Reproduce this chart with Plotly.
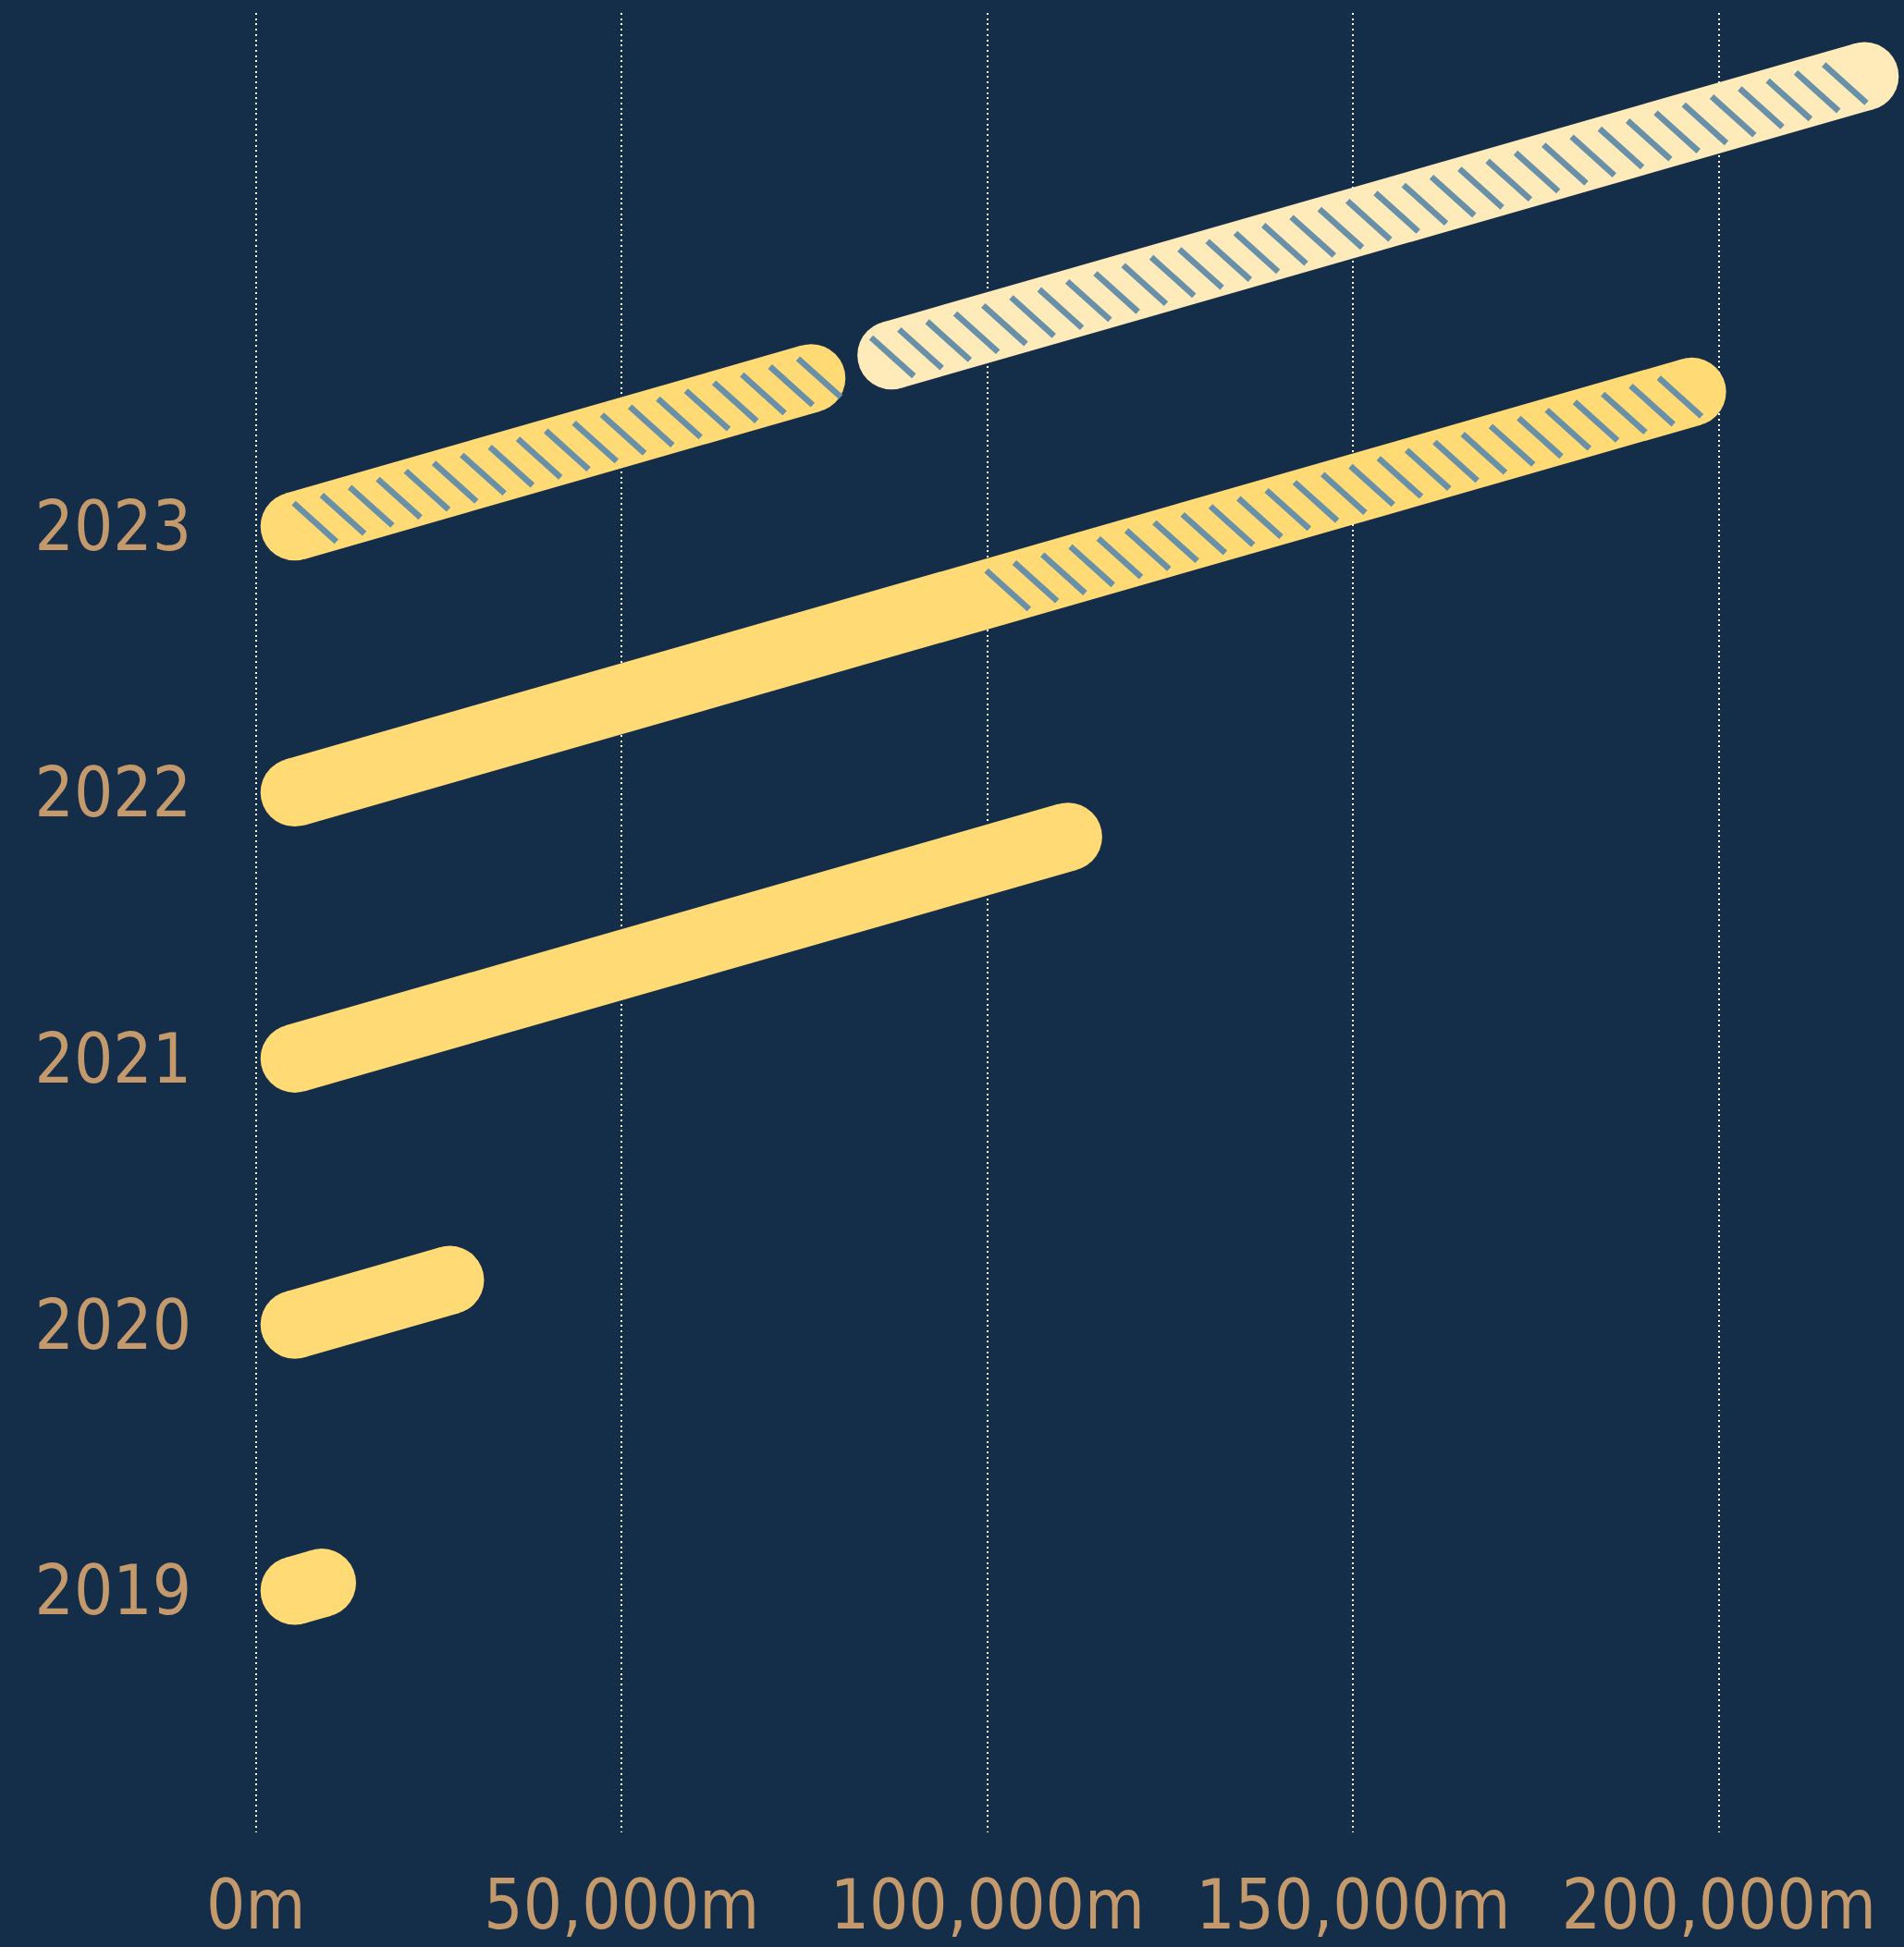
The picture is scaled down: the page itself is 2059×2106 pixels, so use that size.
import math
import plotly.graph_objects as go

# ---------------- data ----------------
years = [2019, 2020, 2021, 2022, 2023]
year_labels = ["2019", "2020", "2021", "2022", "2023"]

# each bar segment: row (year), start value, end value (metres)
seg_year = [2019, 2020, 2021, 2022, 2023, 2023]
seg_start = [0, 0, 0, 0, 0, 81600]
seg_end = [13700, 31200, 115700, 201000, 80600, 224600]
# value from which the segment is hatched (None = plain)
seg_hatch_from = [None, None, None, 100000, 0, 81600]
seg_kind = ["main", "main", "main", "main", "main", "light"]

x_tick_vals = [0, 50000, 100000, 150000, 200000]
x_tick_text = ["0m", "50,000m", "100,000m", "150,000m", "200,000m"]

# ---------------- style ----------------
BG = "#142D48"
TEXT = "#C49A6C"
COLORS = {"main": "#FFDA75", "light": "#FFEBBA"}
HATCH = "#6890A8"
FONT = "DejaVu Sans Condensed, Roboto Condensed, Roboto, sans-serif"
FSIZE = 74
HATCH_OFFSETS = [0, 0, 0, 22, 22, 1]   # px offset of first hatch mark per segment

W, H = 2059, 2106
ML, MR, MT, MB = 230, 0, 14, 124
PW, PH = W - ML - MR, H - MT - MB
X_RANGE = [-5904, 225318]
Y_RANGE = [2018.0914, 2024.9295]
kx = PW / (X_RANGE[1] - X_RANGE[0])      # px per metre
ky = PH / (Y_RANGE[1] - Y_RANGE[0])      # px per row unit

BAR_W = 74            # stroke width in px
R = BAR_W / 2
PAD = 5               # gap between axis origin and the cap
ANGLE = 16            # degrees of the slant
slope = math.tan(math.radians(ANGLE)) * kx / ky   # data units of y per metre
x_anchor = (PAD + R) / kx                          # where every row's line starts

HATCH_STEP = 30.3     # px between hatch marks (horizontal)


def y_at(year, x):
    return year + slope * (x - x_anchor)


fig = go.Figure()

for yr, a, b, hf, kind, hoff in zip(seg_year, seg_start, seg_end, seg_hatch_from,
                                    seg_kind, HATCH_OFFSETS):
    c = COLORS[kind]
    xs = a + (PAD + R) / kx
    xe = b - R / kx
    fig.add_trace(go.Scatter(
        x=[xs, xe], y=[y_at(yr, xs), y_at(yr, xe)],
        mode="lines+markers",
        line=dict(color=c, width=BAR_W),
        marker=dict(symbol="circle", size=BAR_W, color=c, line=dict(width=0)),
        cliponaxis=False, hoverinfo="skip", showlegend=False,
    ))
    if hf is not None:
        start_px = max(hf * kx, xs * kx) + hoff
        end_px = xe * kx + 9
        hx = []
        p = start_px
        while p <= end_px:
            hx.append(p / kx)
            p += HATCH_STEP
        fig.add_trace(go.Scatter(
            x=hx, y=[y_at(yr, v) - 2 / ky for v in hx],
            mode="markers",
            marker=dict(symbol="line-nw", size=44, angle=-3,
                        line=dict(color=HATCH, width=6.5)),
            cliponaxis=False, hoverinfo="skip", showlegend=False,
        ))

fig.update_layout(
    width=W, height=H,
    margin=dict(l=ML, r=MR, t=MT, b=MB, autoexpand=False),
    paper_bgcolor=BG, plot_bgcolor=BG,
    font=dict(family=FONT, color=TEXT, size=FSIZE),
    showlegend=False,
)
fig.update_xaxes(
    range=X_RANGE, tickvals=x_tick_vals, ticktext=x_tick_text,
    showgrid=True, gridcolor="#FFFFFF", gridwidth=2, griddash="2px,3.7px",
    zeroline=False, showline=False, ticks="", automargin=False,
    ticklabelstandoff=29, tickfont=dict(family=FONT, color=TEXT, size=FSIZE),
)
fig.update_yaxes(
    range=Y_RANGE, tickvals=years, ticktext=year_labels,
    showgrid=False, zeroline=False, showline=False, ticks="", automargin=False,
    ticklabelstandoff=22, tickfont=dict(family=FONT, color=TEXT, size=FSIZE),
)

fig.write_html(
    "out.html",
    config={"displayModeBar": False},
    post_script="document.body.style.margin='0';document.body.style.background='#142D48';",
)
